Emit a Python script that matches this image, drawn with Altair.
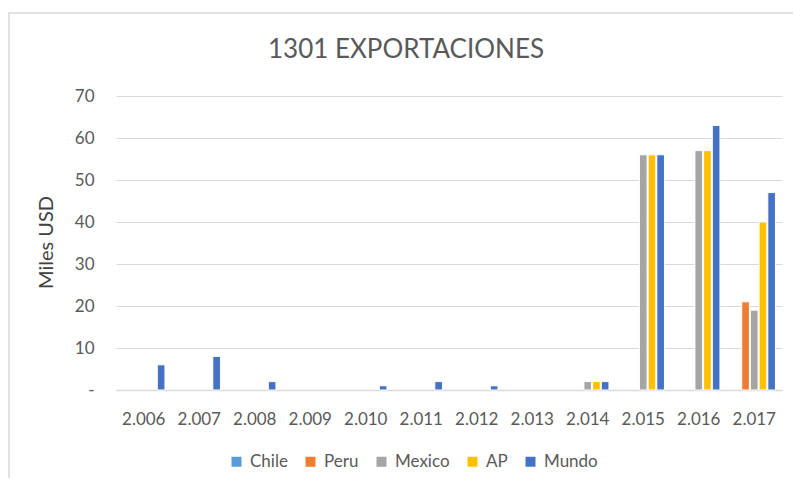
import altair as alt
import pandas as pd

years = ["2.006", "2.007", "2.008", "2.009", "2.010", "2.011",
         "2.012", "2.013", "2.014", "2.015", "2.016", "2.017"]
series = ["Chile", "Peru", "Mexico", "AP", "Mundo"]
colors = ["#5B9BD5", "#ED7D31", "#A5A5A5", "#FFC000", "#4472C4"]

chile = [0, 0, 0, 0, 0, 0, 0, 0, 0, 0, 0, 0]
peru = [0, 0, 0, 0, 0, 0, 0, 0, 0, 0, 0, 21]
mexico = [0, 0, 0, 0, 0, 0, 0, 0, 2, 56, 57, 19]
ap = [0, 0, 0, 0, 0, 0, 0, 0, 2, 56, 57, 40]
mundo = [6, 8, 2, 0, 1, 2, 1, 0, 2, 56, 63, 47]

title_text = "1301 EXPORTACIONES"

values = {"Chile": chile, "Peru": peru, "Mexico": mexico, "AP": ap, "Mundo": mundo}
rows = []
for s in series:
    for y, v in zip(years, values[s]):
        rows.append({"Año": y, "Serie": s, "Valor": v})
df = pd.DataFrame(rows)

FONT = "Lato"
GREY = "#595959"
one = pd.DataFrame({"a": [0]})

frame = alt.Chart(one).mark_rect(
    fill="white", fillOpacity=0, stroke="#d9d9d9", strokeWidth=1.5
).encode(
    x=alt.value(-107), x2=alt.value(720), y=alt.value(-83), y2=alt.value(420)
)

title = alt.Chart(one).mark_text(
    text=title_text, font=FONT, fontSize=26, color=GREY,
    align="center", baseline="middle"
).encode(x=alt.value(290), y=alt.value(-46))

bars = alt.Chart(df).transform_filter("datum.Valor > 0").mark_bar(
    stroke="white", strokeWidth=1
).encode(
    x=alt.X("Año:N", sort=years,
            scale=alt.Scale(domain=years, paddingInner=0.22, paddingOuter=0.11),
            axis=alt.Axis(title=None, labelAngle=0, ticks=False, domain=True,
                          domainColor="#d9d9d9", domainWidth=1.5,
                          labelPadding=21, labelFontSize=17,
                          labelColor=GREY, labelFont=FONT)),
    xOffset=alt.XOffset("Serie:N",
                        scale=alt.Scale(domain=series, paddingInner=0.12, paddingOuter=0.05)),
    y=alt.Y("Valor:Q",
            scale=alt.Scale(domain=[0, 70], nice=False),
            axis=alt.Axis(title="Miles USD", values=[0, 10, 20, 30, 40, 50, 60, 70],
                          labelExpr="datum.value == 0 ? '-\u2007\u2007' : datum.label",
                          ticks=False, domain=False, labelPadding=22,
                          labelFontSize=17, labelColor=GREY, labelFont=FONT,
                          gridColor="#d9d9d9", gridWidth=1,
                          titleFont=FONT, titleFontSize=20, titleFontWeight="normal",
                          titleColor="#404040", titleX=-60, titleY=146)),
    color=alt.Color("Serie:N",
                    scale=alt.Scale(domain=series, range=colors),
                    legend=alt.Legend(title=None, orient="none", direction="horizontal",
                                      legendX=112, legendY=357,
                                      symbolType="square", symbolSize=100,
                                      symbolStrokeWidth=0, labelOffset=5,
                                      columnPadding=14, labelFontSize=17,
                                      labelColor=GREY, labelFont=FONT))
)

chart = alt.layer(frame, bars, title).properties(
    width=666, height=294,
    padding={"left": 108, "top": 88, "right": 11, "bottom": 88},
    autosize="none",
    background="white",
).configure_view(stroke=None)

chart.save("out.html", embed_options={"renderer": "svg", "actions": False})
